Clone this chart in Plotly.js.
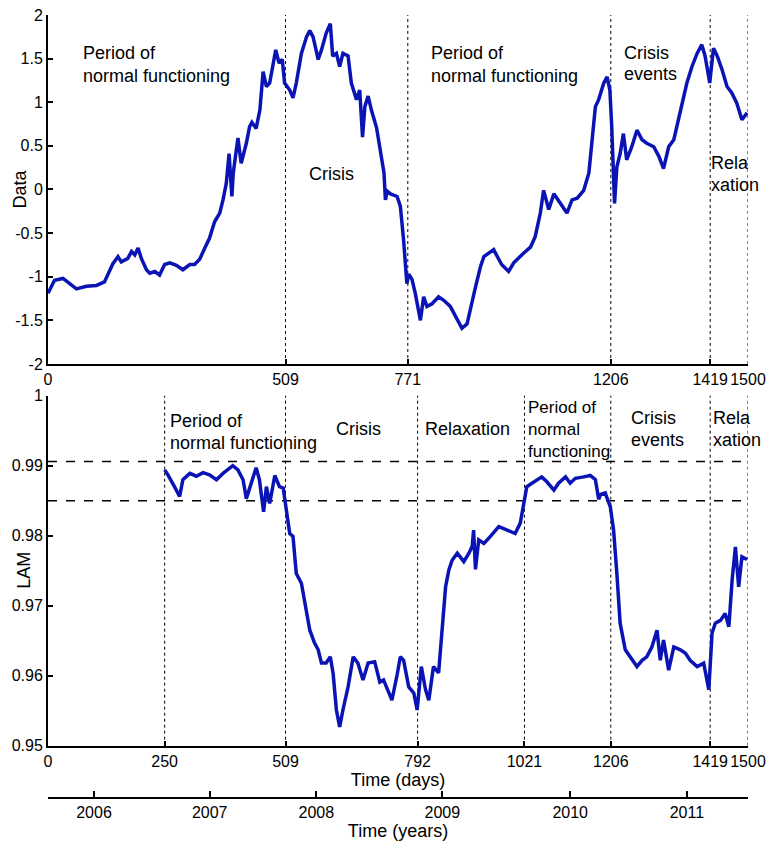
<!DOCTYPE html>
<html>
<head>
<meta charset="utf-8">
<script src="https://cdn.plot.ly/plotly-3.0.1.min.js"></script>
<style>html,body{margin:0;padding:0;background:#fff;}#chart{width:768px;height:844px;}</style>
</head>
<body>
<div id="chart"></div>
<script>
// ---- Top panel: Data vs time (days) ----
const dataDays = [0,14,32,50,61,82,104,121,129,139,150,157,171,179,186,193,200,211,218,229,239,250,261,275,289,304,314,325,336,346,357,368,375,382,388,394,397,407,414,425,432,437,446,454,461,468,475,482,488,495,502,507,518,525,532,543,554,561,568,579,586,596,605,610,618,625,632,643,650,661,668,674,679,686,693,704,714,720,723,727,734,748,755,762,769,773,780,787,798,805,812,823,837,848,862,873,887,898,909,916,927,934,955,966,972,987,998,1019,1034,1044,1055,1062,1073,1084,1098,1112,1123,1134,1148,1159,1166,1173,1180,1191,1198,1204,1208,1214,1219,1226,1233,1240,1251,1262,1273,1283,1298,1309,1319,1330,1341,1351,1362,1369,1380,1391,1401,1408,1418,1426,1434,1444,1455,1465,1476,1487,1498];
const dataValues = [-1.19,-1.04,-1.02,-1.09,-1.14,-1.11,-1.10,-1.06,-0.96,-0.85,-0.77,-0.83,-0.79,-0.71,-0.75,-0.67,-0.79,-0.92,-0.96,-0.94,-0.98,-0.86,-0.84,-0.87,-0.92,-0.86,-0.86,-0.80,-0.67,-0.56,-0.37,-0.27,-0.12,0.07,0.41,-0.08,0.19,0.59,0.30,0.53,0.72,0.77,0.70,0.91,1.35,1.18,1.22,1.41,1.60,1.45,1.49,1.22,1.14,1.05,1.22,1.56,1.75,1.82,1.75,1.49,1.60,1.79,1.90,1.53,1.56,1.41,1.56,1.53,1.22,1.03,1.14,0.60,0.95,1.07,0.91,0.71,0.38,0.19,-0.12,-0.02,-0.05,-0.08,-0.19,-0.58,-1.08,-0.97,-1.03,-1.19,-1.50,-1.23,-1.34,-1.31,-1.23,-1.27,-1.34,-1.46,-1.59,-1.54,-1.27,-1.12,-0.88,-0.77,-0.69,-0.81,-0.86,-0.94,-0.84,-0.73,-0.66,-0.54,-0.27,-0.01,-0.23,-0.05,-0.16,-0.27,-0.12,-0.10,-0.01,0.19,0.57,0.95,1.03,1.22,1.29,1.14,0.72,-0.16,0.26,0.41,0.64,0.34,0.49,0.68,0.57,0.53,0.49,0.38,0.24,0.49,0.57,0.80,1.03,1.22,1.41,1.56,1.66,1.53,1.22,1.62,1.53,1.38,1.18,1.11,0.99,0.80,0.88];

// ---- Bottom panel: LAM vs time (days) ----
const lamDays = [250,257,271,282,289,304,318,332,346,361,375,389,396,407,418,425,436,446,453,462,468,475,486,496,504,511,518,525,532,543,550,561,571,579,586,596,605,611,618,625,632,643,654,664,675,686,700,711,719,727,737,748,755,762,773,784,791,800,809,816,826,837,844,852,859,866,877,891,902,909,912,916,923,934,948,966,984,1001,1012,1019,1026,1037,1048,1058,1069,1084,1094,1109,1119,1130,1148,1162,1173,1180,1184,1194,1205,1212,1219,1226,1237,1248,1262,1273,1283,1294,1305,1312,1319,1330,1341,1355,1366,1376,1391,1405,1416,1423,1430,1441,1451,1459,1466,1473,1480,1487,1498];
const lamValues = [0.9894,0.9887,0.9870,0.9856,0.9880,0.9889,0.9885,0.9890,0.9887,0.9880,0.9889,0.9896,0.9900,0.9894,0.9880,0.9853,0.9876,0.9897,0.9880,0.9834,0.9870,0.9846,0.9886,0.9870,0.9868,0.9832,0.9803,0.9799,0.9746,0.9732,0.9708,0.9665,0.9647,0.9637,0.9618,0.9618,0.9627,0.9603,0.9551,0.9527,0.9551,0.9584,0.9627,0.9618,0.9594,0.9618,0.9620,0.9591,0.9594,0.9580,0.9565,0.9601,0.9627,0.9622,0.9584,0.9575,0.9551,0.9613,0.9580,0.9565,0.9613,0.9604,0.9656,0.9727,0.9751,0.9765,0.9775,0.9763,0.9775,0.9785,0.9808,0.9752,0.9794,0.9789,0.9799,0.9813,0.9808,0.9803,0.9818,0.9841,0.9870,0.9875,0.9879,0.9884,0.9877,0.9865,0.9875,0.9884,0.9875,0.9882,0.9884,0.9886,0.9880,0.9852,0.9859,0.9861,0.9841,0.9808,0.9746,0.9675,0.9637,0.9627,0.9613,0.9622,0.9627,0.9641,0.9665,0.9622,0.9651,0.9608,0.9641,0.9637,0.9632,0.9622,0.9613,0.9618,0.9580,0.9661,0.9675,0.9679,0.9689,0.9670,0.9737,0.9784,0.9727,0.9770,0.9766];

// ---- Period boundaries (days) and thresholds ----
const topBounds = [509, 771, 1206, 1419, 1500];
const bottomBounds = [250, 509, 792, 1021, 1206, 1419, 1500];
const lamThresholds = [0.9906, 0.985];

// ---- Tick labels ----
const topXTicks = [0, 509, 771, 1206, 1419, 1500];
const bottomXTicks = [0, 250, 509, 792, 1021, 1206, 1419, 1500];
const dataYTicks = [-2,-1.5,-1,-0.5,0,0.5,1,1.5,2];
const dataYLabels = ['-2','-1.5','-1','-0.5','0','0.5','1','1.5','2'];
const lamYTicks = [0.95,0.96,0.97,0.98,0.99,1];
const lamYLabels = ['0.95','0.96','0.97','0.98','0.99','1'];
const yearTickDays = [0, 98.6, 346.5, 575, 845, 1119, 1369, 1500];
const yearLabels = ['', '2006', '2007', '2008', '2009', '2010', '2011', ''];

// ---- Text labels ----
const topLabels = [
  {x: 73, y: 1.561, t: 'Period of'},
  {x: 73, y: 1.301, t: 'normal functioning'},
  {x: 557, y: 0.178, t: 'Crisis'},
  {x: 819, y: 1.561, t: 'Period of'},
  {x: 819, y: 1.301, t: 'normal functioning'},
  {x: 1232, y: 1.568, t: 'Crisis'},
  {x: 1232, y: 1.324, t: 'events'},
  {x: 1418, y: 0.30, t: 'Rela'},
  {x: 1418, y: 0.052, t: 'xation'}
];
const bottomLabels = [
  {x: 260, y: 0.99639, t: 'Period of', s: 18},
  {x: 260, y: 0.99329, t: 'normal functioning', s: 18},
  {x: 614, y: 0.9952, t: 'Crisis', s: 18},
  {x: 805, y: 0.9952, t: 'Relaxation', s: 18},
  {x: 1026, y: 0.9952, t: 'Period of<br>normal<br>functioning', s: 17},
  {x: 1248, y: 0.99686, t: 'Crisis', s: 18},
  {x: 1248, y: 0.99367, t: 'events', s: 18},
  {x: 1423, y: 0.99686, t: 'Rela', s: 18},
  {x: 1423, y: 0.99367, t: 'xation', s: 18}
];

const lineColor = '#0a14b4';
const FONT = 'Liberation Sans, Arial, Helvetica, sans-serif';

const traces = [
  {x: dataDays, y: dataValues, xaxis: 'x', yaxis: 'y', type: 'scatter', mode: 'lines',
   line: {color: lineColor, width: 3.5}, hoverinfo: 'skip', showlegend: false},
  {x: lamDays, y: lamValues, xaxis: 'x2', yaxis: 'y2', type: 'scatter', mode: 'lines',
   line: {color: lineColor, width: 3.5}, hoverinfo: 'skip', showlegend: false},
  {x: [0, 1500], y: [null, null], xaxis: 'x3', yaxis: 'y2', type: 'scatter', mode: 'lines',
   hoverinfo: 'skip', showlegend: false}
];

const shapes = [];
topBounds.forEach(b => shapes.push({type: 'line', xref: 'x', yref: 'y domain', x0: b, x1: b, y0: 0, y1: 1,
  line: {color: '#000', width: 1, dash: 'dot'}, layer: 'below'}));
bottomBounds.forEach(b => shapes.push({type: 'line', xref: 'x2', yref: 'y2 domain', x0: b, x1: b, y0: 0, y1: 1,
  line: {color: '#000', width: 1, dash: 'dot'}, layer: 'below'}));
lamThresholds.forEach(v => shapes.push({type: 'line', xref: 'x2 domain', yref: 'y2', x0: 0, x1: 1, y0: v, y1: v,
  line: {color: '#000', width: 1.5, dash: 'dash'}, layer: 'below'}));

const annotations = [];
topLabels.forEach(a => annotations.push({x: a.x, y: a.y, xref: 'x', yref: 'y', text: a.t, showarrow: false,
  xanchor: 'left', yanchor: 'middle', align: 'left', borderpad: 0, font: {family: FONT, size: 18, color: '#000'}}));
bottomLabels.forEach(a => annotations.push({x: a.x, y: a.y, xref: 'x2', yref: 'y2', text: a.t, showarrow: false,
  xanchor: 'left', yanchor: 'middle', align: 'left', borderpad: 0, font: {family: FONT, size: a.s, color: '#000'}}));
annotations.push({x: 0, y: 0.5, xref: 'paper', yref: 'y domain', xshift: -28,
  text: 'Data', textangle: -90, showarrow: false, xanchor: 'center', yanchor: 'middle',
  font: {family: FONT, size: 18, color: '#000'}});
annotations.push({x: 0, y: 0.5, xref: 'paper', yref: 'y2 domain', xshift: -24,
  text: 'LAM', textangle: -90, showarrow: false, xanchor: 'center', yanchor: 'middle',
  font: {family: FONT, size: 18, color: '#000'}});

const axisBase = {
  showline: true, linewidth: 2, linecolor: '#000', ticks: 'inside', tickwidth: 2, ticklen: 5,
  tickcolor: '#000', showgrid: false, zeroline: false, fixedrange: true, automargin: false,
  tickfont: {family: FONT, size: 16, color: '#000'}
};

const layout = {
  width: 768, height: 844,
  margin: {l: 48, r: 20, t: 15, b: 46},
  paper_bgcolor: '#fff', plot_bgcolor: 'rgba(0,0,0,0)',
  showlegend: false,
  font: {family: FONT, size: 16, color: '#000'},
  xaxis: Object.assign({}, axisBase, {domain: [0, 1], anchor: 'y', range: [0, 1500],
    tickmode: 'array', tickvals: topXTicks, ticktext: topXTicks.map(String)}),
  yaxis: Object.assign({}, axisBase, {domain: [0.5543, 1], anchor: 'x', range: [-2, 2],
    tickmode: 'array', tickvals: dataYTicks, ticktext: dataYLabels}),
  xaxis2: Object.assign({}, axisBase, {domain: [0, 1], anchor: 'y2', range: [0, 1500],
    tickmode: 'array', tickvals: bottomXTicks, ticktext: bottomXTicks.map(String),
    title: {text: 'Time (days)', font: {family: FONT, size: 18, color: '#000'}, standoff: 0}}),
  yaxis2: Object.assign({}, axisBase, {domain: [0.0668, 0.5138], anchor: 'x2', range: [0.95, 1],
    tickmode: 'array', tickvals: lamYTicks, ticktext: lamYLabels}),
  xaxis3: Object.assign({}, axisBase, {domain: [0, 1], anchor: 'free', position: 0, overlaying: 'x2',
    range: [0, 1500], ticklen: 6, tickmode: 'array', tickvals: yearTickDays, ticktext: yearLabels,
    title: {text: 'Time (years)', font: {family: FONT, size: 18, color: '#000'}, standoff: 0}}),
  shapes: shapes,
  annotations: annotations
};

Plotly.newPlot('chart', traces, layout, {staticPlot: true, displayModeBar: false});
</script>
</body>
</html>
